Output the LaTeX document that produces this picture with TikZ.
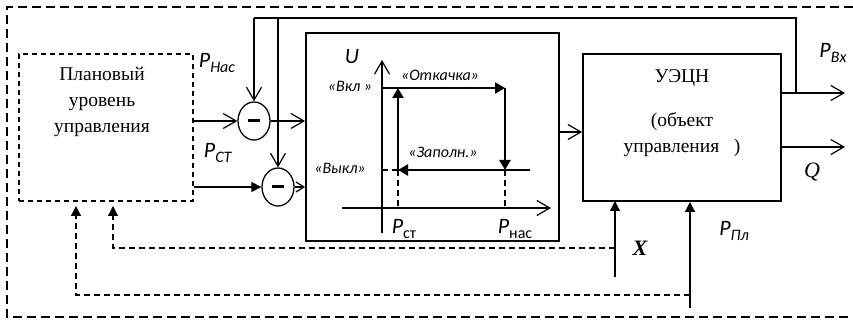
\documentclass[tikz,border=0pt]{standalone}
\usepackage{fontspec}
\setmainfont{Liberation Serif}
\newfontfamily\calfont{Carlito}
\usetikzlibrary{arrows.meta,shapes.geometric,calc}
\tikzset{
  x=1pt,y=-1pt,
  thin line/.style={line width=1.2pt},
  box/.style={draw,line width=1.8pt,inner sep=0pt},
  dbox/.style={draw,line width=1.5pt,dash pattern=on 5pt off 4pt,inner sep=0pt},
  dline/.style={line width=1.3pt,dash pattern=on 6pt off 4pt},
  obar/.style={-{Straight Barb[length=13pt,width=15pt,line width=1.2pt]}},
  sbar/.style={-{Straight Barb[length=8pt,width=10pt,line width=1.2pt]}},
  ftri/.style={-{Triangle[length=10pt,width=10pt]}},
  gtri/.style={-{Triangle[length=10pt,width=11pt]}},
  cnode/.style={draw,ellipse,line width=1.3pt,minimum width=32pt,minimum height=38pt,inner sep=0pt},
  serif/.style={font=\fontsize{19.5}{26}\selectfont,align=center,inner sep=0pt},
  lbl/.style={font=\calfont\itshape\fontsize{16}{18}\selectfont,inner sep=0pt},
  plbl/.style={font=\calfont\fontsize{22}{24}\selectfont,inner sep=0pt},
}
\newcommand{\Psub}[1]{\textit{P}\raisebox{-0.4ex}{\fontsize{16}{18}\selectfont\textit{#1}}}
\newcommand{\Psubu}[1]{\textit{P}\raisebox{-0.4ex}{\fontsize{16}{18}\selectfont #1}}
\begin{document}
\begin{tikzpicture}
\useasboundingbox (0,0) rectangle (853,320);
% outer dashed frame (open on the right)
\draw[dline,line width=1.2pt,dash pattern=on 9pt off 5pt] (853,7) -- (7,7) -- (7,317) -- (853,317);

% boxes
\node[dbox,minimum width=174pt,minimum height=147pt] (plan) at (106,127.5) {};
\node[serif] (plantxt) at (102,102) {Плановый\\уровень\\управления};
\node[box,minimum width=253pt,minimum height=208pt] (mid) at (432.5,137) {};
\node[box,minimum width=198pt,minimum height=147pt] (obj) at (682,127.5) {};
\node[serif] (objt1) at (682,78) {УЭЦН};
\node[serif] (objt2) at (682,135) {(объект\\управления~~~)};

% comparators
\node[cnode] (c1) at (254,121) {};
\node[cnode] (c2) at (278,187) {};
\draw[line width=3pt] ($(c1)-(6,0)$) -- ($(c1)+(6,0)$);
\draw[line width=3pt] ($(c2)-(6,0)$) -- ($(c2)+(6,0)$);

% coordinates
\coordinate (topL) at (254,18);
\coordinate (topM) at (278,18);
\coordinate (topR) at (796,18);
\coordinate (pbxj) at (796,93);
\coordinate (pbxe) at (845,93);
\coordinate (qs) at (781,147);
\coordinate (qe) at (845,147);
\coordinate (xs) at (615,277);
\coordinate (xt) at (615,201);
\coordinate (xj) at (615,248);
\coordinate (ps) at (690,308);
\coordinate (pt) at (690,202);
\coordinate (pj) at (690,295);
\coordinate (f1c) at (113,248);
\coordinate (f1t) at (113,206);
\coordinate (f2c) at (76,295);
\coordinate (f2t) at (76,206);

% signal lines
\draw[thin line,obar] (plan.east |- c1) -- (c1.west);
\draw[thin line,ftri] (plan.east |- c2) -- (c2.west);
\draw[thin line] (topL) -- (topR) -- (pbxj);
\draw[thin line,obar] (topL) -- (c1.north);
\draw[thin line,obar] (topM) -- (c2.north);
\draw[thin line,obar] (c1.east) -- (mid.west |- c1);
\draw[thin line,sbar] (c2.east) -- (mid.west |- c2);
\draw[thin line,obar] (mid.east |- 0,132) -- (obj.west |- 0,132);
\draw[thin line,obar] (obj.east |- pbxj) -- (pbxe);
\draw[thin line,obar] (qs) -- (qe);
\draw[thin line,ftri] (xs) -- (xt);
\draw[thin line,ftri] (ps) -- (pt);

% feedback dashed
\draw[dline,ftri] (xj) -- (f1c) -- (f1t);
\draw[dline,ftri] (pj) -- (f2c) -- (f2t);

% graph inside mid box
\coordinate (ax0) at (382,233);
\coordinate (ay1) at (382,60);
\coordinate (hx0) at (342,208);
\coordinate (hx1) at (551,208);
\coordinate (von0) at (382,88);
\coordinate (von1) at (398,88);
\coordinate (von2) at (505,88);
\coordinate (voff2) at (505,170);
\coordinate (voff3) at (530,170);
\coordinate (voff1) at (398,170);
\coordinate (voff0) at (382,170);
\coordinate (b1) at (398,208);
\coordinate (b2) at (505,208);
\draw[thin line,obar] (ax0) -- (ay1);
\draw[thin line,obar] (hx0) -- (hx1);
\draw[thin line] (von0) -- (von1);
\draw[thin line] (voff2) -- (voff3);
\draw[line width=2.4pt,gtri] (von1) -- (von2);
\draw[line width=2.4pt,gtri] (von2) -- (voff2);
\draw[line width=2.4pt,gtri] (voff2) -- (voff1);
\draw[line width=2.4pt,gtri] (voff1) -- (von1);
\draw[dline,line width=1.6pt] (voff0) -- (voff1);
\draw[dline,line width=1.6pt] (voff1) -- (b1);
\draw[dline,line width=1.6pt] (voff2) -- (b2);

% labels
\node[plbl] (U) at (352,57) {\textit{U}};
\node[lbl] (lon) at (350,86) {«Вкл »};
\node[lbl] (lotk) at (440,75) {«Откачка»};
\node[lbl] (lzap) at (443,152) {«Заполн.»};
\node[lbl] (loff) at (340,168) {«Выкл»};
\node[plbl] (pst) at (404,229) {\Psubu{ст}};
\node[plbl] (pnas) at (515,229) {\Psubu{нас}};
\node[plbl] (PHas) at (217,63) {\Psub{Нас}};
\node[plbl] (PCT) at (218,153) {\Psub{СТ}};
\node[plbl] (PBx) at (833,53) {\Psub{Вх}};
\node[plbl] (PPl) at (734,231) {\Psub{Пл}};
\node[font=\fontsize{22}{24}\selectfont\itshape,inner sep=0pt] (Q) at (812,172) {Q};
\node[font=\fontsize{22}{24}\selectfont\bfseries\itshape,inner sep=0pt] (X) at (640,248) {X};
\end{tikzpicture}
\end{document}
